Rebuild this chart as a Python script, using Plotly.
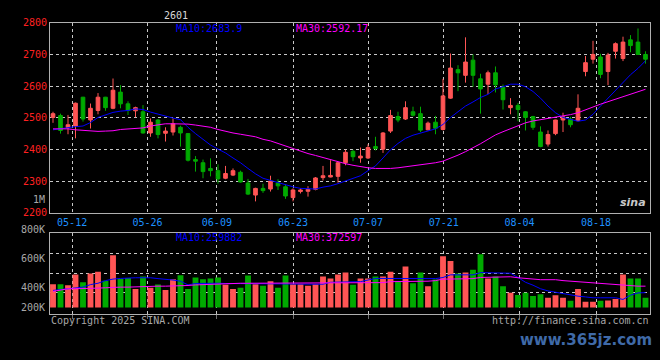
import plotly.graph_objects as go

# ---------------- data ----------------
tick_labels = ["05-12", "05-26", "06-09", "06-23", "07-07", "07-21", "08-04", "08-18"]
tick_pos = [2.55, 12.6, 21.85, 32.0, 42.0, 52.1, 62.2, 72.4]   # in candle-index units

opens = [2501, 2507, 2469, 2474, 2565, 2493, 2523, 2565, 2530, 2581,
         2544, 2522, 2519, 2452, 2493, 2451, 2455, 2470, 2450, 2368,
         2358, 2340, 2333, 2309, 2319, 2328, 2294, 2256, 2277, 2275,
         2294, 2282, 2248, 2267, 2268, 2274, 2311, 2313, 2315, 2358,
         2394, 2373, 2373, 2409, 2401, 2458, 2504, 2496, 2519, 2513,
         2462, 2486, 2463, 2562, 2652, 2634, 2682, 2623, 2606, 2642,
         2596, 2532, 2539, 2519, 2504, 2455, 2417, 2450, 2493, 2496,
         2491, 2646, 2685, 2692, 2646, 2710, 2687, 2746, 2739, 2700]
closes = [2513, 2460, 2478, 2546, 2496, 2530, 2565, 2532, 2587, 2544,
          2523, 2532, 2452, 2486, 2447, 2458, 2481, 2452, 2366, 2363,
          2330, 2333, 2307, 2324, 2333, 2297, 2259, 2277, 2270, 2300,
          2285, 2253, 2272, 2272, 2274, 2310, 2317, 2318, 2358, 2391,
          2377, 2379, 2406, 2403, 2452, 2507, 2493, 2532, 2508, 2461,
          2483, 2467, 2569, 2657, 2642, 2676, 2634, 2591, 2642, 2604,
          2557, 2539, 2526, 2501, 2470, 2409, 2447, 2493, 2503, 2478,
          2530, 2674, 2700, 2637, 2698, 2734, 2739, 2728, 2700, 2685]
highs = [2519, 2513, 2509, 2548, 2566, 2545, 2578, 2566, 2624, 2603,
         2552, 2535, 2540, 2498, 2496, 2470, 2498, 2475, 2452, 2379,
         2368, 2372, 2353, 2348, 2340, 2333, 2307, 2279, 2292, 2317,
         2306, 2290, 2277, 2277, 2284, 2313, 2348, 2366, 2361, 2399,
         2399, 2406, 2416, 2440, 2455, 2525, 2519, 2552, 2535, 2535,
         2488, 2506, 2623, 2703, 2666, 2754, 2700, 2639, 2649, 2662,
         2605, 2562, 2547, 2521, 2506, 2473, 2460, 2494, 2516, 2503,
         2574, 2695, 2743, 2702, 2705, 2738, 2756, 2761, 2782, 2710]
lows = [2484, 2450, 2448, 2435, 2488, 2466, 2511, 2522, 2527, 2530,
        2509, 2502, 2450, 2440, 2435, 2425, 2444, 2409, 2362, 2330,
        2309, 2315, 2292, 2306, 2316, 2295, 2256, 2236, 2263, 2267,
        2272, 2244, 2236, 2261, 2251, 2271, 2302, 2312, 2295, 2350,
        2363, 2358, 2370, 2397, 2389, 2452, 2486, 2493, 2504, 2455,
        2460, 2448, 2460, 2560, 2584, 2611, 2598, 2513, 2575, 2580,
        2526, 2511, 2489, 2460, 2462, 2407, 2409, 2445, 2455, 2470,
        2489, 2631, 2671, 2625, 2603, 2687, 2679, 2707, 2700, 2671]

ma10 = [2462, 2466, 2470, 2472, 2474, 2485, 2501, 2509, 2517, 2521,
        2523, 2528, 2526, 2518, 2511, 2505, 2499, 2494, 2470, 2450,
        2432, 2414, 2401, 2389, 2373, 2358, 2340, 2323, 2309, 2302,
        2297, 2289, 2282, 2277, 2275, 2275, 2281, 2285, 2292, 2300,
        2307, 2317, 2333, 2348, 2373, 2399, 2419, 2435, 2445, 2452,
        2458, 2465, 2479, 2501, 2519, 2537, 2550, 2564, 2574, 2591,
        2598, 2606, 2606, 2598, 2583, 2562, 2537, 2516, 2501, 2496,
        2489, 2493, 2511, 2537, 2562, 2588, 2613, 2636, 2656, 2680]
ma30 = [2465, 2465, 2465, 2462, 2460, 2459, 2457, 2458, 2459, 2463,
        2464, 2466, 2468, 2474, 2477, 2481, 2481, 2481, 2480, 2477,
        2474, 2470, 2463, 2457, 2452, 2448, 2445, 2440, 2432, 2427,
        2419, 2411, 2402, 2394, 2387, 2381, 2374, 2368, 2361, 2355,
        2350, 2345, 2342, 2340, 2339, 2340, 2342, 2345, 2347, 2350,
        2354, 2358, 2363, 2372, 2382, 2393, 2405, 2418, 2432, 2446,
        2456, 2465, 2475, 2484, 2490, 2494, 2498, 2501, 2505, 2510,
        2516, 2524, 2534, 2543, 2551, 2559, 2567, 2575, 2583, 2590]

volumes = [407, 407, 390, 576, 441, 593, 627, 469, 915, 497,
           514, 322, 542, 345, 401, 305, 492, 565, 322, 525,
           492, 508, 525, 396, 322, 345, 559, 407, 379, 458,
           345, 559, 407, 407, 379, 407, 542, 508, 576, 610,
           396, 508, 508, 542, 542, 627, 458, 717, 424, 610,
           373, 491, 898, 814, 593, 610, 661, 932, 508, 542,
           373, 260, 220, 260, 203, 232, 170, 215, 170, 119,
           322, 102, 102, 119, 124, 147, 576, 508, 508, 170]   # thousands
vol_ma10 = [299, 316, 328, 340, 356, 400, 424, 470, 497, 508,
            518, 520, 520, 520, 505, 497, 480, 460, 395, 420,
            424, 424, 424, 420, 418, 418, 418, 418, 418, 415,
            412, 410, 407, 407, 407, 407, 407, 441, 441, 441,
            452, 452, 480, 508, 508, 508, 497, 497, 497, 497,
            497, 505, 525, 571, 571, 571, 571, 610, 610, 610,
            610, 599, 525, 441, 390, 328, 290, 265, 243, 220,
            198, 185, 170, 170, 170, 170, 141, 215, 255, 260]
vol_ma30 = [282, 305, 328, 328, 328, 339, 339, 345, 356, 356,
            356, 362, 373, 373, 373, 373, 373, 373, 385, 395,
            401, 401, 412, 424, 424, 424, 424, 424, 424, 424,
            424, 424, 424, 424, 424, 424, 424, 429, 429, 429,
            429, 429, 429, 429, 435, 452, 452, 452, 452, 452,
            460, 470, 497, 497, 497, 497, 505, 525, 525, 525,
            537, 537, 520, 508, 508, 486, 486, 486, 470, 460,
            452, 440, 424, 415, 400, 395, 380, 375, 373, 373]

title_text = "2601"
ma10_text = "MA10:2683.9"
ma30_text = "MA30:2592.17"
vma10_text = "MA10:259882"
vma30_text = "MA30:372597"
vol_labels = ["800K", "600K", "400K", "200K"]

# ---------------- styling ----------------
W, H = 660, 360
RED = "#ff5555"
GREEN = "#00aa00"
BLUE = "#0000ff"
MAG = "#ff00ff"
GRAY = "#a8a8a8"
FRAME = "#b0b0b0"
GRID = "#c8c8c8"
XLAB = "#1e90ff"
MONO = "DejaVu Sans Mono"

idx = list(range(len(opens)))
vols = [v * 1000 for v in volumes]
vma10 = [v * 1000 for v in vol_ma10]
vma30 = [v * 1000 for v in vol_ma30]
bar_colors = [RED if c >= o else GREEN for o, c in zip(opens, closes)]

def px(xp):
    return xp / W

def py(yp):
    return 1 - yp / H

fig = go.Figure()
fig.add_trace(go.Candlestick(
    x=idx, open=opens, high=highs, low=lows, close=closes,
    increasing=dict(line=dict(color=RED, width=1), fillcolor=RED),
    decreasing=dict(line=dict(color=GREEN, width=1), fillcolor=GREEN),
    whiskerwidth=0, xaxis="x", yaxis="y", hoverinfo="skip"))
fig.add_trace(go.Scatter(x=idx, y=ma10, mode="lines", line=dict(color=BLUE, width=1),
                         xaxis="x", yaxis="y", hoverinfo="skip"))
fig.add_trace(go.Scatter(x=idx, y=ma30, mode="lines", line=dict(color=MAG, width=1),
                         xaxis="x", yaxis="y", hoverinfo="skip"))

fig.add_trace(go.Bar(x=idx, y=vols, marker=dict(color=bar_colors, line=dict(width=0)),
                     xaxis="x2", yaxis="y2", hoverinfo="skip"))
fig.add_trace(go.Scatter(x=idx, y=vma10, mode="lines", line=dict(color=BLUE, width=1),
                         xaxis="x2", yaxis="y2", hoverinfo="skip"))
fig.add_trace(go.Scatter(x=idx, y=vma30, mode="lines", line=dict(color=MAG, width=1),
                         xaxis="x2", yaxis="y2", hoverinfo="skip"))

xdom = [px(50), px(650)]
xrange = [-0.4, 79.6]
common_x = dict(domain=xdom, range=xrange, tickmode="array", tickvals=tick_pos,
                showgrid=True, gridcolor=GRID, griddash="dot", gridwidth=1,
                showline=True, mirror=True, linecolor=FRAME, linewidth=1,
                zeroline=False, fixedrange=True)

vol_scale = 16950  # volume units per pixel
vol_range = [-7 * vol_scale, 77 * vol_scale]
vol_grid = [15.3 * vol_scale, 35.3 * vol_scale, 55.3 * vol_scale]

fig.update_layout(
    width=W, height=H, margin=dict(l=0, r=0, t=0, b=0),
    paper_bgcolor="#000000", plot_bgcolor="#000000",
    showlegend=False, bargap=0.22,
    font=dict(family=MONO, size=10, color=GRAY),
    xaxis=dict(**common_x, anchor="y", ticktext=tick_labels,
               tickfont=dict(family=MONO, size=10, color=XLAB),
               rangeslider=dict(visible=False), ticks=""),
    yaxis=dict(domain=[py(213.3), py(17.3)], range=[2200, 2800],
               tickmode="array", tickvals=[2200, 2300, 2400, 2500, 2600, 2700, 2800],
               tickfont=dict(family=MONO, size=10, color="#ff2020"),
               showgrid=True, gridcolor=GRID, griddash="dot", gridwidth=1,
               showline=True, mirror=True, linecolor=FRAME, linewidth=1,
               zeroline=False, ticks="", fixedrange=True),
    xaxis2=dict(**common_x, anchor="y2", showticklabels=False,
                ticks="outside", ticklen=4, tickcolor="#707070"),
    yaxis2=dict(domain=[py(318), py(234)], range=vol_range,
                tickmode="array", tickvals=vol_grid, showticklabels=False,
                showgrid=True, gridcolor=GRID, griddash="dot", gridwidth=1,
                showline=True, mirror=True, linecolor=FRAME, linewidth=1,
                zeroline=False, ticks="", fixedrange=True),
)

ann = []
def text(s, x, y, color, anchor="left", size=10, family=MONO, **kw):
    ann.append(dict(text=s, x=px(x), y=py(y), xref="paper", yref="paper",
                    xanchor=anchor, yanchor="middle", showarrow=False,
                    font=dict(family=family, size=size, color=color), **kw))

text(title_text, 176, 10, "#d8d8d8", anchor="center")
text(ma10_text, 174, 23.5, BLUE)
text(ma30_text, 294, 23.5, MAG)
text("1M", 47, 200, GRAY, anchor="right")
text(vma10_text, 174, 239, BLUE)
text(vma30_text, 294, 239, MAG)
for lab, yy in zip(vol_labels, [230.7, 260.7, 290.7, 311]):
    text(lab, 47, yy, GRAY, anchor="right")
text("Copyright 2025 SINA.COM", 49, 324, GRAY)
text("http://finance.sina.com.cn", 651, 324, GRAY, anchor="right")
text("<b><i>sina</i></b>", 648, 203, "#c8c8c8", anchor="right", size=11, family="DejaVu Sans")
text("<b>www.365jz.com</b>", 654, 345, "#3f6aa8", anchor="right", size=15, family="DejaVu Sans")
fig.update_layout(annotations=ann)

fig.write_html(
    "out.html",
    config={"displayModeBar": False},
    post_script="document.body.style.margin='0';document.body.style.overflow='hidden';",
)
